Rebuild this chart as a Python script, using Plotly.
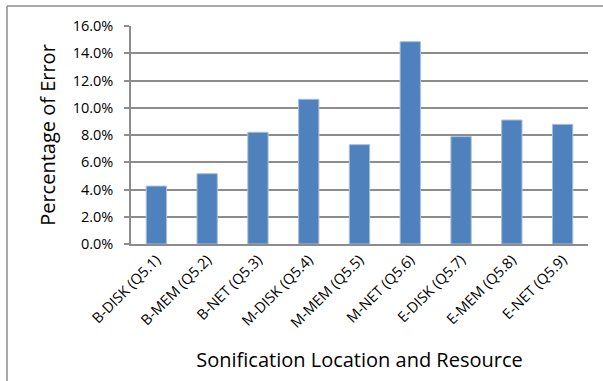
import plotly.graph_objects as go

categories = ["B-DISK (Q5.1)", "B-MEM (Q5.2)", "B-NET (Q5.3)", "M-DISK (Q5.4)",
              "M-MEM (Q5.5)", "M-NET (Q5.6)", "E-DISK (Q5.7)", "E-MEM (Q5.8)", "E-NET (Q5.9)"]
error_pct = [0.0425, 0.0516, 0.0820, 0.1062, 0.0729, 0.1485, 0.0788, 0.0910, 0.0878]
y_ticks = [0, 0.02, 0.04, 0.06, 0.08, 0.10, 0.12, 0.14, 0.16]

FONT = "Open Sans"
W, H = 603, 381
ML, MR, MT, MB = 131, 15, 26, 137
pw, ph = W - ML - MR, H - MT - MB

fig = go.Figure()
fig.add_trace(go.Bar(
    x=categories, y=error_pct,
    marker=dict(color="#4F81BD", line=dict(color="#A7BFDE", width=1)),
))

def px_x(p):
    return (p - ML) / pw

def px_y(p):
    return (H - MB - p) / ph

fig.update_layout(
    width=W, height=H,
    margin=dict(l=ML, r=MR, t=MT, b=MB),
    paper_bgcolor="white", plot_bgcolor="white",
    bargap=0.6,
    showlegend=False,
    font=dict(family=FONT, color="#000000"),
    xaxis=dict(
        automargin=False,
        tickangle=-45, tickfont=dict(size=14.5, family=FONT),
        showline=True, linecolor="#8C8C8C", linewidth=1.5,
        showgrid=False, ticks="",
        title=dict(text="Sonification Location and Resource", font=dict(size=20, family=FONT), standoff=22),
    ),
    yaxis=dict(
        automargin=False,
        range=[0, 0.16], tickvals=y_ticks, tickformat=".1%",
        tickfont=dict(size=14.5, family=FONT),
        ticklabelstandoff=8,
        showgrid=True, gridcolor="#8C8C8C", gridwidth=1.5,
        showline=True, linecolor="#8C8C8C", linewidth=1.5,
        ticks="outside", ticklen=5, tickcolor="#8C8C8C", tickwidth=1.5,
        zeroline=False,
        title=dict(text="Percentage of Error", font=dict(size=20, family=FONT), standoff=12),
    ),
    shapes=[
        dict(type="line", xref="paper", yref="paper",
             x0=px_x(7), x1=px_x(W + 5), y0=px_y(6), y1=px_y(6),
             line=dict(color="#8C8C8C", width=1.5)),
        dict(type="line", xref="paper", yref="paper",
             x0=px_x(7), x1=px_x(7), y0=px_y(6), y1=px_y(H + 5),
             line=dict(color="#8C8C8C", width=1.5)),
    ],
)

fig.write_html("out.html", config={"displayModeBar": False},
               post_script="document.body.style.margin='0px';")
